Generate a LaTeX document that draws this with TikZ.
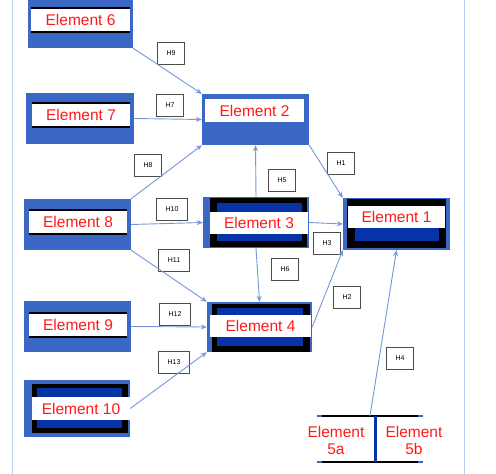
\documentclass[tikz,border=0pt]{standalone}
\usepackage{fontspec}
\setmainfont{Liberation Sans}
\usepackage{xcolor}
\usetikzlibrary{positioning}
\usetikzlibrary{arrows.meta}
\definecolor{boxblue}{HTML}{3B68C5}
\definecolor{deepblue}{HTML}{0633A8}
\definecolor{linkblue}{HTML}{7596DC}
\definecolor{edgeblue}{HTML}{B4D0F4}
\definecolor{labelred}{HTML}{FF1A1A}

\begin{document}
\begin{tikzpicture}[x=1pt, y=-1pt,
    outer/.style={rectangle, fill=boxblue, inner sep=0pt},
    band/.style={rectangle, fill=white, inner sep=0pt, text=labelred,
        font=\fontsize{15.5}{17}\selectfont},
    hbox/.style={rectangle, draw=gray!60!black, fill=white, line width=0.8pt,
        minimum width=27, minimum height=22, inner xsep=9pt, inner ysep=0pt,
        font=\fontsize{7}{8}\selectfont},
    hlink/.style={draw=linkblue, line width=0.9pt, -{Stealth[length=6pt,width=5pt]}}]
    \useasboundingbox (0,0) rectangle (496,474);
    \draw[edgeblue, line width=1pt] (12,0) -- (12,474);
    \draw[edgeblue, line width=1pt] (464,0) -- (464,474);

    \node[outer, minimum width=105, minimum height=51] (e6) at (80.5,22.5) {};
    \node[band, minimum width=99, minimum height=24] (l6) at (80.5,20) {Element 6};
    \node[outer, minimum width=108, minimum height=51] (e7) at (80,118.5) {};
    \node[band, minimum width=98, minimum height=24] (l7) at (81,115) {Element 7};
    \node[outer, minimum width=107, minimum height=51] (e8) at (77.5,224.5) {};
    \node[band, minimum width=98, minimum height=24] (l8) at (78,222) {Element 8};
    \node[outer, minimum width=107, minimum height=51] (e9) at (77.5,326.5) {};
    \node[band, minimum width=98, minimum height=24] (l9) at (78,325) {Element 9};
    \foreach \n in {6,7,8,9} {
        \draw[black, line width=2.5pt] (l\n.north west) -- (l\n.north east);
        \draw[black, line width=2.5pt] (l\n.south west) -- (l\n.south east);
    }

    \node[outer, minimum width=106, minimum height=57] (e10) at (77,408.5) {};
    \fill[black] (32,384) rectangle (128,433);
    \fill[deepblue] (37,388) rectangle (122,428);
    \node[band, minimum width=98, minimum height=23] (l10) at (81,408.5) {Element 10};

    \node[outer, minimum width=107, minimum height=51] (e2) at (255.5,119.5) {};
    \node[band, minimum width=99, minimum height=23] (l2) at (254.5,110.5) {Element 2};

    \node[outer, minimum width=106, minimum height=51] (e3) at (256,222.5) {};
    \fill[black] (210,198) rectangle (307,247);
    \fill[deepblue] (217,203) rectangle (302,241);
    \node[band, minimum width=98, minimum height=22] (l3) at (259,222.5) {Element 3};

    \node[outer, minimum width=105, minimum height=50] (e4) at (259.5,327) {};
    \fill[black] (212,304) rectangle (310,352);
    \fill[deepblue] (217,308) rectangle (303,346);
    \node[band, minimum width=101, minimum height=22] (l4) at (260.5,326) {Element 4};

    \node[outer, minimum width=107, minimum height=52] (e1) at (396.5,224) {};
    \fill[black] (347,199) rectangle (446,248);
    \fill[deepblue] (355,228) rectangle (439,241);
    \node[band, minimum width=97, minimum height=22] (l1) at (396.5,217) {Element 1};

    \node[minimum width=106, minimum height=46, inner sep=0pt] (e5) at (370,439) {};
    \draw[black, line width=2pt] (e5.north west) -- (e5.north east);
    \draw[black, line width=2pt] (e5.south west) -- (e5.south east);
    \draw[boxblue, line width=2pt] (e5.north west) -- ++(5,0);
    \draw[boxblue, line width=2pt] (e5.north east) -- ++(-5,0);
    \draw[boxblue, line width=2pt] (e5.south west) -- ++(5,0);
    \draw[boxblue, line width=2pt] (e5.south east) -- ++(-5,0);
    \draw[deepblue, line width=3pt] ([xshift=5pt]e5.north) -- ([xshift=5pt]e5.south);
    \node[band, fill=none, align=center] (l5a) at (336,440) {Element\\5a};
    \node[band, fill=none, align=center] (l5b) at (414,440) {Element\\5b};

    \node[hbox] (h9) at (171,53) {H9};
    \node[hbox] (h7) at (170,105) {H7};
    \node[hbox] (h8) at (148,165) {H8};
    \node[hbox] (h5) at (282,180) {H5};
    \node[hbox] (h1) at (341,163) {H1};
    \node[hbox] (h10) at (172,209) {H10};
    \node[hbox] (h11) at (174,260) {H11};
    \node[hbox] (h6) at (285,269) {H6};
    \node[hbox] (h3) at (327,243) {H3};
    \node[hbox] (h2) at (347,297) {H2};
    \node[hbox] (h12) at (175,314) {H12};
    \node[hbox] (h13) at (174,362) {H13};
    \node[hbox] (h4) at (400,358) {H4};

    \draw[hlink] (e6.south east) -- (e2.north west);
    \draw[hlink] (e7.east) -- (e2.west);
    \draw[hlink] (e8.north east) -- (e2.south west);
    \draw[hlink] (e8.east) -- (e3.west);
    \draw[hlink] (e8.south east) -- (e4.north west);
    \draw[hlink] (e9.east) -- (e4.west);
    \draw[hlink] (e10.east) -- (e4.south west);
    \draw[hlink] (e3.north) -- (e2.south);
    \draw[hlink] (e3.south) -- (e4.north);
    \draw[hlink] (e2.south east) -- (e1.north west);
    \draw[hlink] (e3.east) -- (e1.west);
    \draw[hlink] (e4.east) -- (e1.south west);
    \draw[hlink] (e5.north) -- (e1.south);
\end{tikzpicture}
\end{document}
